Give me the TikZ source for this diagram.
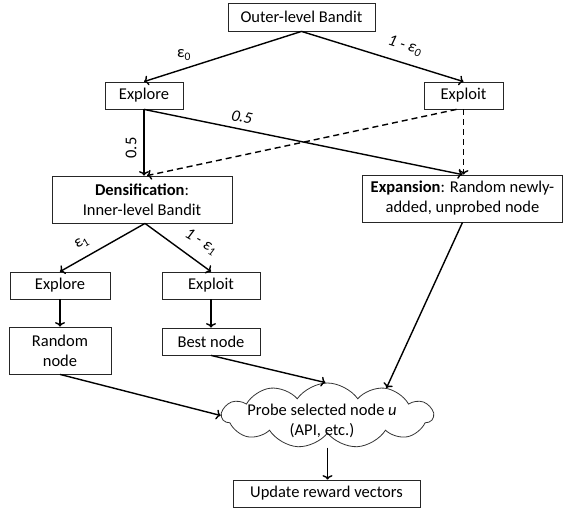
\documentclass[tikz,border=0pt]{standalone}
\usepackage{fontspec}
\setmainfont{Carlito}
\usetikzlibrary{shapes.symbols,arrows.meta}
\begin{document}
\begin{tikzpicture}[x=1pt,y=-1pt,
  box/.style={draw=black!85,line width=0.8pt,inner sep=2pt,align=center,font=\fontsize{16.5}{20}\selectfont},
  arr/.style={line width=1.4pt,-{To[length=4.5pt,width=10pt]}},
  dsh/.style={arr,dash pattern=on 6pt off 4pt},
  lab/.style={font=\fontsize{16.5}{20}\selectfont,inner sep=0pt}]
\useasboundingbox (0,0) rectangle (564,512);
\node[box,minimum width=147pt,minimum height=28pt] (outer) at (301.5,17) {Outer-level Bandit};
\node[box,minimum width=78pt,minimum height=27pt] (exA) at (144,95.5) {Explore};
\node[box,minimum width=79pt,minimum height=27pt] (xpA) at (463.5,95.5) {Exploit};
\node[box,minimum width=180pt,minimum height=47pt] (dens) at (142,199.5) {\textbf{Densification}:\\Inner-level Bandit};
\node[box,minimum width=200pt,minimum height=47pt] (expan) at (462.5,198.5) {\textbf{Expansion}: Random newly-\\added, unprobed node};
\node[box,minimum width=100pt,minimum height=27pt] (exB) at (60,285.5) {Explore};
\node[box,minimum width=98pt,minimum height=27pt] (xpB) at (211,285.5) {Exploit};
\node[box,minimum width=102pt,minimum height=47pt] (rand) at (60,350.5) {Random\\node};
\node[box,minimum width=98pt,minimum height=27pt] (best) at (211,341.5) {Best node};
\node[cloud,draw=black!80,line width=0.8pt,cloud puffs=11,cloud puff arc=110,cloud ignores aspect,minimum width=211pt,minimum height=65pt,inner sep=0pt] (cloud) at (327.5,415.5) {};
\node[lab,align=center] (cloudtxt) at (322,421) {Probe selected node \textit{u}\\(API, etc.)};
\node[box,minimum width=187pt,minimum height=27pt] (upd) at (326.5,493.5) {Update reward vectors};
\coordinate (cbot) at ([yshift=-32pt]cloud.center);

\draw[arr] (outer.south) -- (exA.north);
\draw[arr] (outer.south) -- (xpA.north);
\draw[arr] (exA.south) -- (exA.south |- dens.north);
\draw[arr] (exA.south) -- (expan.north);
\draw[dsh] ([xshift=-7pt]xpA.south) -- ([xshift=5pt]dens.north);
\draw[dsh] (xpA.south) -- (xpA.south |- expan.north);
\draw[arr] ([xshift=3pt]dens.south) -- (exB.north);
\draw[arr] ([xshift=3pt]dens.south) -- (xpB.north);
\draw[arr] (exB.south) -- (rand.north);
\draw[arr] (xpB.south) -- (best.north);
\draw[arr] (rand.south) -- (cloud.west);
\draw[arr] (best.south) -- ([xshift=-2pt]cloud.north);
\draw[arr] (expan.south) -- (cloud.25);
\draw[arr] (cbot) -- (cbot |- upd.north);

\node[lab] (l1) at (184,55) {ε\textsubscript{0}};
\node[lab,rotate=-17.6] (l2) at (405,46) {\itshape 1 - ε\textsubscript{0}};
\node[lab,rotate=-11.7] (l3) at (242,117) {\itshape 0.5};
\node[lab,rotate=90] (l4) at (131,148) {0.5};
\node[lab,rotate=30] (l5) at (82,243) {ε\textsubscript{1}};
\node[lab,rotate=-30] (l6) at (201,242) {\itshape 1 - ε\textsubscript{1}};
\end{tikzpicture}
\end{document}
